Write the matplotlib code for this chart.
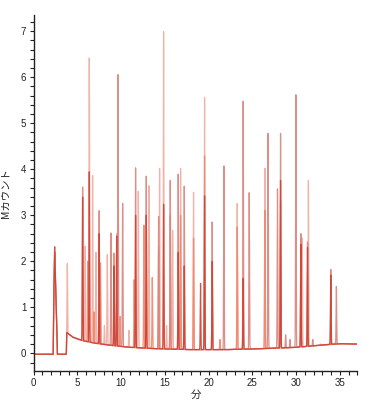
import numpy as np
import matplotlib
matplotlib.use("Agg")
import matplotlib.pyplot as plt
from matplotlib.ticker import MultipleLocator

# ---- data (retention time in minutes, height in M counts) ----
baseline_t = [0, 2.25, 2.3, 2.42, 2.68, 2.72, 3.75, 3.8, 4.5, 5.5, 7, 9, 11, 14, 18, 22, 26, 30, 33, 35, 37]
baseline_y = [-0.02, -0.02, 1.0, 2.2, 0.5, -0.02, -0.02, 0.45, 0.35, 0.28, 0.22, 0.17, 0.13, 0.1, 0.08, 0.08, 0.1, 0.13, 0.18, 0.21, 0.2]

rose_t = [5.61, 7.5, 8.85, 9.65, 10.18, 11.66, 12.88, 14.29, 15.62, 16.53, 17.22, 20.41, 21.75,
          23.95, 24.64, 26.8, 27.87, 28.22, 29.97, 30.54, 31.3, 33.96, 34.6, 28.8, 29.3, 31.9]
rose_h = [3.62, 3.1, 2.62, 6.07, 3.26, 4.03, 3.85, 2.98, 3.76, 3.9, 3.63, 2.86, 4.08,
          5.49, 3.49, 4.78, 3.58, 4.78, 5.63, 2.6, 2.42, 1.82, 1.45, 0.4, 0.3, 0.3]

pink_t = [3.86, 5.9, 6.37, 6.75, 7.13, 8.43, 9.5, 11.97, 13.19, 14.4, 14.86, 15.89, 16.8, 18.28,
          19.54, 23.27, 26.43, 30.7, 31.4, 8.1, 10.9, 15.2]
pink_h = [1.95, 2.33, 6.43, 3.87, 2.2, 2.15, 2.6, 3.53, 3.65, 4.02, 6.99, 2.68, 4.02, 3.5,
          5.56, 3.26, 4.03, 2.5, 3.76, 0.6, 0.5, 0.6]

salmon_t = [6.2, 6.9, 7.65, 9.19, 9.9, 11.5, 12.61, 13.57, 14.29, 15.62, 16.8, 18.28, 19.54, 23.27,
            26.43, 28.22, 30.54, 21.3, 32.8]
salmon_h = [2.0, 0.9, 1.97, 2.18, 0.8, 1.6, 2.79, 1.65, 2.3, 3.0, 3.0, 2.5, 4.29, 2.75,
            3.11, 3.3, 2.0, 0.3, 0.2]

red_t = [2.38, 5.61, 6.37, 7.5, 9.2, 9.5, 11.66, 12.88, 14.86, 16.53, 17.22, 19.08, 19.54, 20.41,
         23.95, 28.22, 30.54, 31.3, 33.96]
red_h = [2.05, 3.4, 3.95, 2.6, 1.9, 2.55, 3.0, 3.0, 3.24, 2.2, 1.9, 1.52, 3.42, 2.0,
         1.63, 3.76, 2.37, 2.3, 1.7]

x_ticks = [0, 5, 10, 15, 20, 25, 30, 35]
y_ticks = [0, 1, 2, 3, 4, 5, 6, 7]

# ---- figure ----
fig = plt.figure(figsize=(3.74, 4.09), dpi=100)
ax = fig.add_axes([0.0896, 0.0934, 0.866, 0.8696])

t = np.arange(0, 37.0001, 0.004)
base = np.interp(t, baseline_t, baseline_y)
sigma = 0.032


def trace(pt, ph):
    y = base.copy()
    for c, h in zip(pt, ph):
        b = np.interp(c, baseline_t, baseline_y)
        y = y + (h - b) * np.exp(-0.5 * ((t - c) / sigma) ** 2)
    return y


series = [
    (pink_t, pink_h, "#eeada3"),
    (salmon_t, salmon_h, "#f2876b"),
    (rose_t, rose_h, "#d9847e"),
    (red_t, red_h, "#cf4234"),
]
for pt, ph, col in series:
    ax.plot(t, trace(pt, ph), color=col, lw=0.9, alpha=0.92)

ax.set_xlim(0, 37)
ax.set_ylim(-0.38, 7.35)
ax.set_xticks(x_ticks)
ax.set_yticks(y_ticks)
ax.xaxis.set_minor_locator(MultipleLocator(1))
ax.yaxis.set_minor_locator(MultipleLocator(0.2))

for s in ["top", "right"]:
    ax.spines[s].set_visible(False)
for s in ["left", "bottom"]:
    ax.spines[s].set_linewidth(1.0)
    ax.spines[s].set_color("#222222")

tick_font = ["Liberation Sans Narrow", "Liberation Sans", "DejaVu Sans"]
ax.tick_params(which="both", direction="out", length=3.2, width=0.8, color="#222222",
               labelsize=7, pad=2, labelcolor="#222222")
for lab in ax.get_xticklabels() + ax.get_yticklabels():
    lab.set_family(tick_font)

jp = ["Noto Sans CJK JP", "DejaVu Sans"]
ax.set_ylabel("Mカウント", family=jp, fontsize=7.5, color="#222222", labelpad=7)
ax.set_xlabel("分", family=jp, fontsize=7.5, color="#222222", labelpad=1)

fig.savefig("out.png", dpi=100)
